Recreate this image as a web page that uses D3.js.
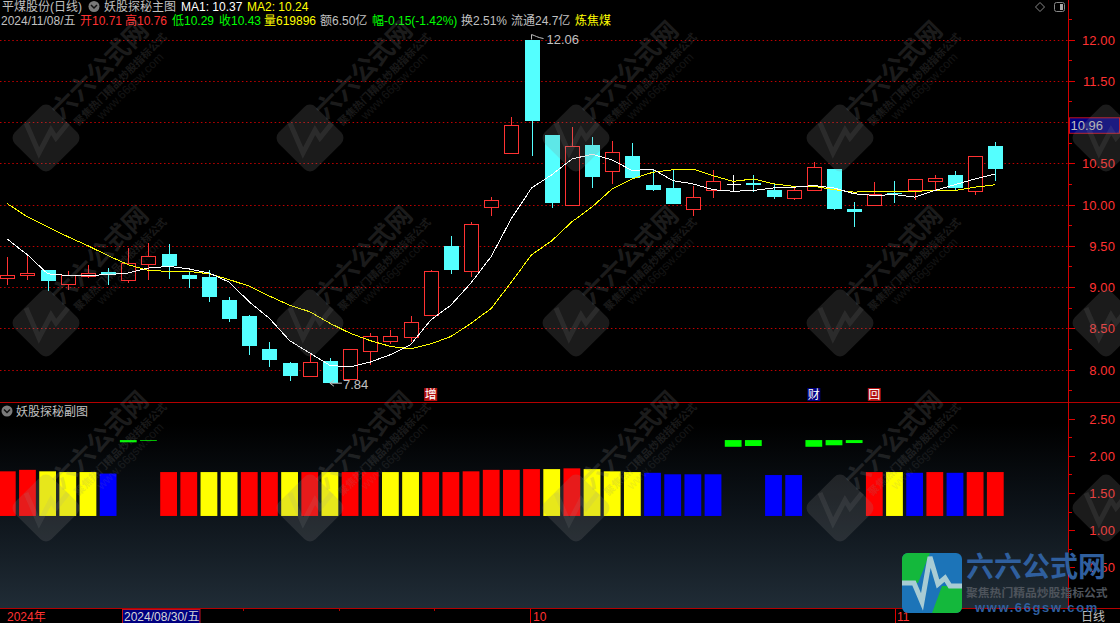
<!DOCTYPE html>
<html><head><meta charset="utf-8">
<style>
html,body{margin:0;padding:0;background:#000;overflow:hidden}
svg{display:block}
text{font-family:"Liberation Sans","Noto Sans CJK SC",sans-serif}
</style>
<script src="https://cdn.jsdelivr.net/npm/d3@7"></script>
</head><body><div id="c"></div>
<script>
const opens =[9.11,9.14,9.21,9.04,9.13,9.18,9.09,9.28,9.40,9.15,9.12,8.84,8.65,8.25,8.08,7.92,8.10,7.88,8.23,8.34,8.39,8.66,9.50,9.19,9.97,10.62,12.00,10.84,10.00,10.72,10.40,10.59,10.24,10.20,9.94,10.18,10.25,10.26,10.18,10.08,10.18,10.43,9.95,10.00,10.14,10.18,10.29,10.36,10.16,10.71];
const closes=[9.15,9.17,9.07,9.15,9.17,9.15,9.29,9.38,9.25,9.10,8.88,8.61,8.28,8.12,7.92,8.09,7.84,8.25,8.41,8.40,8.58,9.19,9.21,9.76,10.06,10.96,11.01,10.02,10.71,10.33,10.64,10.32,10.18,10.01,10.09,10.29,10.25,10.24,10.09,10.17,10.45,9.95,9.91,10.13,10.13,10.31,10.32,10.20,10.59,10.43];
const highs =[9.36,9.40,9.21,9.19,9.27,9.23,9.47,9.53,9.52,9.19,9.21,8.88,8.66,8.33,8.09,8.19,8.14,8.25,8.44,8.48,8.65,9.21,9.62,9.79,10.09,11.06,12.00,10.84,10.94,10.82,10.77,10.75,10.42,10.43,10.22,10.42,10.36,10.36,10.25,10.21,10.52,10.43,10.03,10.27,10.28,10.31,10.36,10.41,10.59,10.76];
const lows  =[9.03,9.08,8.95,8.96,9.11,9.02,9.05,9.09,9.10,8.99,8.82,8.58,8.18,8.03,7.86,7.92,7.84,7.88,8.05,8.31,8.33,8.66,9.16,9.12,9.86,10.62,10.59,9.96,10.00,10.20,10.25,10.32,10.16,10.01,9.86,10.08,10.16,10.15,10.07,10.05,10.18,9.93,9.73,9.98,10.02,10.05,10.16,10.18,10.12,10.29];
const ma1   =[9.58,9.39,9.16,9.14,9.14,9.15,9.17,9.23,9.25,9.22,9.17,9.06,8.82,8.62,8.35,8.20,8.05,8.03,8.09,8.18,8.30,8.60,8.78,9.05,9.37,9.83,10.20,10.36,10.55,10.61,10.54,10.41,10.43,10.29,10.25,10.18,10.16,10.17,10.20,10.21,10.23,10.20,10.13,10.11,10.12,10.09,10.17,10.24,10.31,10.37];
const ma2   =[10.01,9.85,9.73,9.61,9.50,9.38,9.27,9.20,9.19,9.19,9.16,9.09,9.01,8.89,8.78,8.70,8.56,8.44,8.35,8.28,8.25,8.31,8.40,8.56,8.74,9.06,9.39,9.56,9.79,9.97,10.19,10.31,10.39,10.42,10.43,10.35,10.28,10.31,10.25,10.22,10.22,10.18,10.15,10.16,10.16,10.16,10.17,10.17,10.21,10.24];
const subTop=[1.79,1.81,1.79,1.78,1.78,1.76,2.21,2.21,1.78,1.78,1.78,1.78,1.78,1.78,1.78,1.78,1.78,1.78,1.78,1.78,1.78,1.78,1.78,1.79,1.81,1.81,1.82,1.82,1.83,1.82,1.79,1.78,1.77,1.75,1.75,1.75,2.21,2.21,1.74,1.74,2.21,2.21,2.21,1.78,1.78,1.77,1.78,1.77,1.78,1.78];
const subBase=[1.19,1.19,1.19,1.19,1.19,1.19,2.18,2.20,1.19,1.19,1.19,1.19,1.19,1.19,1.19,1.19,1.19,1.19,1.19,1.19,1.19,1.19,1.19,1.19,1.19,1.19,1.19,1.19,1.19,1.19,1.19,1.19,1.19,1.19,1.19,1.19,2.12,2.13,1.19,1.19,2.12,2.14,2.17,1.19,1.19,1.19,1.19,1.19,1.19,1.19];
const subKind=["r","r","y","y","y","b","g","g","r","r","y","y","r","r","y","r","y","r","r","y","y","r","r","r","r","r","r","y","r","y","y","y","b","b","b","b","g","g","b","b","g","g","g","r","y","b","r","b","r","r"];
const mainTicks=[8,8.5,9,9.5,10,10.5,11,11.5,12];
const subTicks=[0.5,1,1.5,2,2.5];
const lastPrice=10.96, peak=12.06, trough=7.84;
const headerTop=["平煤股份(日线)","妖股探秘主图","MA1: 10.37","MA2: 10.24"];
const headerRow=["2024/11/08/五","开10.71","高10.76","低10.29","收10.43","量619896","额6.50亿","幅-0.15(-1.42%)","换2.51%","流通24.7亿","炼焦煤"];
const monthLabels=["2024年","10","11"];
const signals=[{i:21,t:"增",k:"r"},{i:40,t:"财",k:"n"},{i:43,t:"回",k:"r"}];

const W=1120,H=623,AX=1068,RED="#ff3232",CY="#54ffff",DARK="#b40000",GREY="#c0c0c0";
const kindColor={r:"#ff0000",y:"#ffff00",b:"#0000ff",g:"#00ff00"};
const x=d3.scaleLinear().domain([0,49]).range([7.3,995.3]);
const y=d3.scaleLinear().domain([8,12]).range([369.5,39.5]);
const ys=d3.scaleLinear().domain([0.5,2.5]).range([567.3,418.5]);
const svg=d3.select("#c").append("svg").attr("width",W).attr("height",H).attr("viewBox",`0 0 ${W} ${H}`);
const defs=svg.append("defs");
const lg=defs.append("linearGradient").attr("id","pg").attr("x1",0).attr("x2",0).attr("y1",0).attr("y2",1);
[[0,"#000"],[0.1,"#000"],[0.5,"#0c1218"],[1,"#202c36"]].forEach(s=>lg.append("stop").attr("offset",s[0]).attr("stop-color",s[1]));
svg.append("rect").attr("width",W).attr("height",H).attr("fill","#000");
svg.append("rect").attr("x",0).attr("y",403).attr("width",AX).attr("height",205).attr("fill","url(#pg)");

// grid
svg.append("g").selectAll("line").data(mainTicks).join("line")
 .attr("x1",0).attr("x2",AX).attr("y1",d=>Math.round(y(d))+.5).attr("y2",d=>Math.round(y(d))+.5)
 .attr("stroke","#c00000").attr("stroke-dasharray","1.5,2.6");

// sub panel bars
svg.append("g").selectAll("rect").data(subTop).join("rect")
 .attr("x",(d,i)=>x(i)-8.4).attr("width",16.8)
 .attr("y",d=>ys(d)).attr("height",(d,i)=>ys(subBase[i])-ys(d))
 .attr("fill",(d,i)=>kindColor[subKind[i]]);

// candles
const cand=svg.append("g").attr("shape-rendering","crispEdges");
d3.range(closes.length).forEach(i=>{
  const up=closes[i]>opens[i], flat=closes[i]===opens[i];
  const col=flat?"#ffffff":(up?RED:CY), cx=Math.round(x(i))+.5;
  const t=Math.round(y(Math.max(opens[i],closes[i]))), b=Math.round(y(Math.min(opens[i],closes[i])));
  cand.append("line").attr("x1",cx).attr("x2",cx).attr("y1",y(highs[i])).attr("y2",t).attr("stroke",col);
  cand.append("line").attr("x1",cx).attr("x2",cx).attr("y1",b).attr("y2",y(lows[i])).attr("stroke",col);
  if(flat){cand.append("line").attr("x1",cx-7).attr("x2",cx+7).attr("y1",t+.5).attr("y2",t+.5).attr("stroke",col);}
  else if(up){cand.append("rect").attr("x",cx-7).attr("y",t+.5).attr("width",14).attr("height",Math.max(b-t,1)).attr("fill","#000").attr("stroke",col);}
  else{cand.append("rect").attr("x",cx-7.5).attr("y",t).attr("width",15).attr("height",Math.max(b-t,1)).attr("fill",col);}
});

// moving averages
const line=d3.line().x((d,i)=>x(i)).y(d=>y(d));
svg.append("path").attr("d",line(ma2)).attr("fill","none").attr("stroke","#ffff00").attr("stroke-width",1).attr("shape-rendering","crispEdges");
svg.append("path").attr("d",line(ma1)).attr("fill","none").attr("stroke","#ffffff").attr("stroke-width",1).attr("shape-rendering","crispEdges");

// frame
const frame=svg.append("g").attr("stroke",DARK).attr("shape-rendering","crispEdges");
frame.append("line").attr("x1",0).attr("x2",W).attr("y1",402.5).attr("y2",402.5).attr("stroke-width",1);
frame.append("line").attr("x1",0).attr("x2",W).attr("y1",608.5).attr("y2",608.5);
frame.append("line").attr("x1",AX+.5).attr("x2",AX+.5).attr("y1",0).attr("y2",608).attr("stroke","#d00000");

// axes
function axis(scale,major,minor){
  const g=svg.append("g").attr("transform",`translate(${AX+.5},0)`);
  g.append("g").call(d3.axisRight(scale).tickValues(minor).tickSize(3).tickFormat("")).call(s=>s.select(".domain").remove());
  const m=g.append("g").call(d3.axisRight(scale).tickValues(major).tickSize(6).tickFormat(d3.format(".2f")));
  m.select(".domain").remove();
  g.selectAll("line").attr("stroke","#e00000").attr("shape-rendering","crispEdges");
  m.selectAll("text").attr("x",46.5).attr("text-anchor","end").attr("fill",RED).attr("font-size",13).attr("letter-spacing",".1px")
   .attr("font-family",'"Liberation Sans"').attr("dy","0.36em");
}
axis(y,mainTicks,d3.range(7.75,12.5,.25).filter(v=>v*2%1!==0));
axis(ys,subTicks,[.75,1.25,1.75,2.25]);

// current price tag
svg.append("rect").attr("x",AX+1.5).attr("y",y(lastPrice)-7.5).attr("width",W-AX-2).attr("height",15.5).attr("fill","#000080").attr("stroke","#c01020");
svg.append("text").attr("x",AX+2.5).attr("y",y(lastPrice)+4.5).attr("fill",GREY).attr("font-size",13).text(lastPrice.toFixed(2));

// high/low tags
const tagG=svg.append("g");
tagG.append("path").attr("d",`M${x(26)},${y(peak)}V${y(12)}M${x(26)},${y(peak)}q3,1 5,2t7,2`).attr("fill","none").attr("stroke",GREY);
tagG.append("text").attr("x",x(26)+15).attr("y",y(peak)+9.5).attr("fill",GREY).attr("font-size",13).text(peak.toFixed(2));
tagG.append("path").attr("d",`M${x(16)+12},${y(trough)+.5}H${x(16)}l4,-3M${x(16)},${y(trough)+.5}l4,3`).attr("fill","none").attr("stroke",GREY);
tagG.append("text").attr("x",x(16)+13).attr("y",y(trough)+6.5).attr("fill",GREY).attr("font-size",13).text(trough.toFixed(2));

// signal tags
const sigColor={r:"#b01010",n:"#000080"};
const sg=svg.append("g").selectAll("g").data(signals).join("g").attr("transform",d=>`translate(${x(d.i)-6.5},388)`);
sg.append("rect").attr("width",13).attr("height",13).attr("fill",d=>sigColor[d.k]);
sg.append("text").attr("x",6.5).attr("y",11).attr("text-anchor","middle").attr("fill","#fff").attr("font-size",12).text(d=>d.t);

// header
function chev(cx,cy){
  const g=svg.append("g");
  g.append("circle").attr("cx",cx).attr("cy",cy).attr("r",5.5).attr("fill","#7a7a7a");
  g.append("path").attr("d",`M${cx-3},${cy-1.5}L${cx},${cy+1.5}L${cx+3},${cy-1.5}`).attr("fill","none").attr("stroke","#111").attr("stroke-width",1.5);
}
chev(94,6.5); chev(7,411);
const topX=[2,104,181,247], topC=[GREY,GREY,"#fff","#ffff00"];
svg.append("g").selectAll("text").data(headerTop).join("text").attr("x",(d,i)=>topX[i]).attr("y",11).attr("fill",(d,i)=>topC[i]).attr("font-size",12).text(d=>d);
const rowX=[1,80,125,172,219,264,320,372,461,511,575];
const rowC=[GREY,RED,RED,"#00ff00","#00ff00","#ffff00",GREY,"#00ff00",GREY,GREY,"#ffff00"];
svg.append("g").selectAll("text").data(headerRow).join("text").attr("x",(d,i)=>rowX[i]).attr("y",25).attr("fill",(d,i)=>rowC[i]).attr("font-size",12).text(d=>d);
svg.append("text").attr("x",16).attr("y",416).attr("fill",GREY).attr("font-size",12).text("妖股探秘副图");
svg.append("path").attr("d","M1040,2.5l4.5,4.5l-4.5,4.5l-4.5,-4.5z").attr("fill","none").attr("stroke","#888");
svg.append("rect").attr("x",1054.5).attr("y",2.5).attr("width",10).attr("height",9).attr("rx",2).attr("fill","none").attr("stroke","#888");
svg.append("rect").attr("x",1060).attr("y",4).attr("width",3).attr("height",6).attr("fill","#aaa");

// time axis
const axisG=svg.append("g");
const tx=[530,895];
axisG.append("g").attr("shape-rendering","crispEdges").selectAll("line").data([243,339,434]).join("line").attr("x1",d=>d+.5).attr("x2",d=>d+.5).attr("y1",609).attr("y2",611).attr("stroke",DARK);
axisG.append("g").attr("shape-rendering","crispEdges").selectAll("line").data(tx).join("line").attr("x1",d=>d+.5).attr("x2",d=>d+.5).attr("y1",609).attr("y2",623).attr("stroke","#e00000");
axisG.append("rect").attr("x",122.5).attr("y",609.5).attr("width",77.5).attr("height",14).attr("fill","#000080").attr("stroke","#c01020");
axisG.append("text").attr("x",124).attr("y",621).attr("fill","#d8d8d8").attr("font-size",12).text("2024/08/30/五");
axisG.append("text").attr("x",7).attr("y",621).attr("fill",RED).attr("font-size",12).text(monthLabels[0]);
axisG.append("text").attr("x",533).attr("y",621).attr("fill",RED).attr("font-size",12).text(monthLabels[1]);
axisG.append("text").attr("x",897).attr("y",621).attr("fill",RED).attr("font-size",12).text(monthLabels[2]);
axisG.append("text").attr("x",1081).attr("y",621).attr("fill",GREY).attr("font-size",12).text("日线");

// watermark tiles
const wm=svg.append("g").attr("pointer-events","none");
[46,310,576,840,1106].forEach(cx=>[138,323,508].forEach(cy=>{
  const g=wm.append("g").attr("transform",`translate(${cx},${cy})`);
  g.append("rect").attr("x",-26).attr("y",-26).attr("width",52).attr("height",52).attr("rx",8).attr("transform","rotate(45)").attr("fill","#888").attr("opacity",.2);
  g.append("path").attr("d","M-20,-15L-7,15L5,-8L10,0L22,-15").attr("fill","none").attr("stroke","#999").attr("stroke-width",5).attr("opacity",.13);
  if(cx>1100) return;
  const t=(dx,dy,s,fs,w,o)=>g.append("text").attr("transform",`translate(${dx},${dy}) rotate(-45)`).attr("text-anchor","middle").attr("font-size",fs).attr("font-weight",w).attr("fill","#888").attr("opacity",o).text(s);
  t(60,-62,"六六公式网",25,"bold",.2);
  t(77,-56,"聚焦热门精品炒股指标公式",10.5,"bold",.18);
  t(87,-49,"www.66gsw.com",12,"normal",.14);
}));

// site logo
const lgG=svg.append("g");
defs.append("clipPath").attr("id","lc").append("rect").attr("x",902).attr("y",553).attr("width",60).attr("height",60).attr("rx",6);
const lc=lgG.append("g").attr("clip-path","url(#lc)");
lc.append("rect").attr("x",902).attr("y",553).attr("width",60).attr("height",60).attr("fill","#1c74b8");
lc.append("path").attr("d","M902,553H930L918,583H902Z").attr("fill","#14b83c");
lc.append("path").attr("d","M932,613L942,586H962V613Z").attr("fill","#14b83c");
lc.append("path").attr("d","M902,583H914L922,602L930,557L938,584L945,578L950,586H962").attr("fill","none").attr("stroke","#a8ccd4").attr("stroke-width",5);
lgG.append("text").attr("x",966).attr("y",577).attr("fill","#2f5f9e").attr("font-size",28).attr("font-weight","bold").text("六六公式网");
lgG.append("text").attr("x",966).attr("y",597).attr("fill","#4e545c").attr("font-size",11.8).attr("font-weight","bold").text("聚焦热门精品炒股指标公式");
lgG.append("text").attr("x",975).attr("y",612).attr("fill","#2f5f9e").attr("font-size",13).attr("font-weight","bold").attr("letter-spacing","1.6px").text("www.66gsw.com");
</script></body></html>
